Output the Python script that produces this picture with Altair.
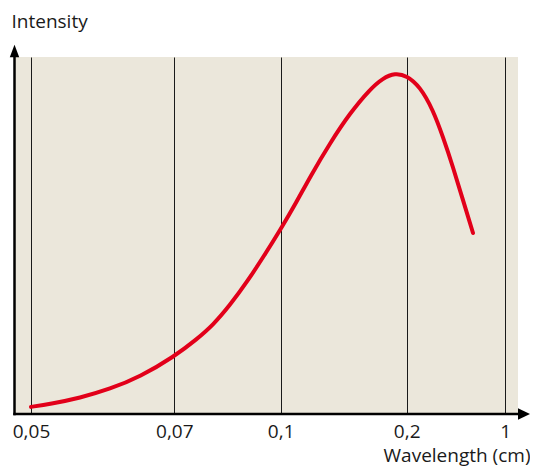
import altair as alt
import pandas as pd

# Data
wavelength = [0.05, 0.05265, 0.05684, 0.06102, 0.06521, 0.07, 0.0764, 0.08091, 0.08571,
              0.0905, 0.0953, 0.1, 0.11214, 0.12325, 0.13913, 0.155, 0.17087,
              0.18119, 0.19071, 0.2, 0.30791, 0.41339, 0.49453, 0.57567, 0.6568, 0.73794]
intensity = [2.0, 2.8, 4.5, 7.0, 10.4, 16.1, 21.0, 24.9, 30.5,
             37.0, 44.3, 51.8, 59.1, 66.4, 75.9, 84.3, 91.0,
             94.1, 95.5, 94.8, 91.7, 85.2, 77.6, 69.2, 59.9, 50.7]
tick_values = [0.05, 0.07, 0.1, 0.2, 1]
tick_positions = [16, 159.3, 265.7, 391.7, 490.3]  # non-uniform axis layout of the source

df = pd.DataFrame({"wavelength": wavelength, "intensity": intensity})
one = pd.DataFrame({"k": [0]})

W, H = 503, 357
FONT = "Open Sans"
FS = 19

x_scale = alt.Scale(domain=tick_values, range=tick_positions)
y_scale = alt.Scale(domain=[0, 100])

line = alt.Chart(df).mark_line(
    color="#e2001a", strokeWidth=4, interpolate="basis", strokeCap="round"
).encode(
    x=alt.X("wavelength:Q", scale=x_scale,
            axis=alt.Axis(values=tick_values, format="~g",
                          labelExpr="replace(datum.label, '.', ',')",
                          grid=True, gridColor="#1a1a1a", gridWidth=1,
                          domain=False, ticks=False, tickSize=0,
                          labelFontSize=FS, labelFont=FONT, labelColor="#1a1a1a",
                          labelPadding=8, labelFlush=False, labelOverlap=False,
                          title="Wavelength (cm)", titleFont=FONT, titleFontSize=FS,
                          titleFontWeight="normal", titleColor="#1a1a1a",
                          titleX=515, titleY=47, titleAlign="right",
                          titleBaseline="alphabetic", titleAnchor="end")),
    y=alt.Y("intensity:Q", scale=y_scale,
            axis=alt.Axis(labels=False, ticks=False, domain=False, grid=False,
                          title="Intensity", titleAngle=0, titleX=-4, titleY=-29.5,
                          titleAlign="left", titleBaseline="alphabetic",
                          titleFont=FONT, titleFontSize=FS, titleFontWeight="normal",
                          titleColor="#1a1a1a")),
)

left_axis = alt.Chart(one).mark_rule(color="black", strokeWidth=2.5).encode(
    x=alt.value(-0.5), y=alt.value(-2), y2=alt.value(H + 1.2)
)
bottom_axis = alt.Chart(one).mark_rule(color="black", strokeWidth=2.5).encode(
    x=alt.value(-1.7), x2=alt.value(505), y=alt.value(H)
)
up_arrow = alt.Chart(one).mark_point(
    shape="M-0.75,1L0,-1L0.75,1Z", filled=True, color="black", opacity=1, size=159
).encode(x=alt.value(-0.5), y=alt.value(-6))
right_arrow = alt.Chart(one).mark_point(
    shape="M-1,-0.95L1,0L-1,0.95Z", filled=True, color="black", opacity=1, size=144
).encode(x=alt.value(509), y=alt.value(H))

chart = alt.layer(line, left_axis, bottom_axis, up_arrow, right_arrow).properties(
    width=W, height=H,
    autosize=alt.AutoSizeParams(type="none"),
    padding={"left": 7, "top": 49, "right": 12, "bottom": 52},
    background="white",
).configure_view(fill="#ebe7db", stroke=None)

chart.save("out.html", embed_options={"renderer": "svg", "actions": False})
